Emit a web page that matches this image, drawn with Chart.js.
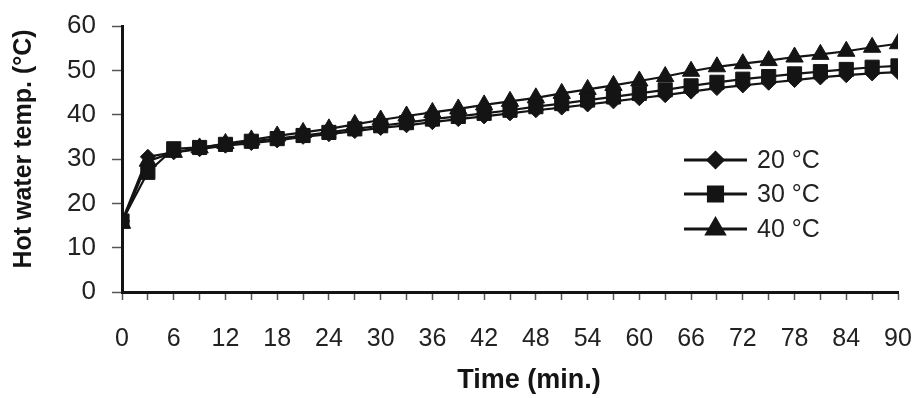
<!DOCTYPE html>
<html>
<head>
<meta charset="utf-8">
<script src="https://cdn.jsdelivr.net/npm/chart.js@4.4.0/dist/chart.umd.min.js"></script>
<style>
  html, body { margin: 0; padding: 0; background: #fff; }
</style>
</head>
<body>
<canvas id="chart" width="916" height="398"></canvas>
<script>
// time in minutes, one reading every 3 min
var times = [0, 3, 6, 9, 12, 15, 18, 21, 24, 27, 30, 33, 36, 39, 42, 45, 48, 51, 54, 57, 60, 63, 66, 69, 72, 75, 78, 81, 84, 87, 90];

var temp20 = [16, 30.5, 31.5, 32.2, 33, 33.6, 34.2, 35, 35.6, 36.3, 37, 37.6, 38.3, 39, 39.6, 40.3, 41, 41.6, 42.3, 43, 43.7, 44.4, 45.2, 46, 46.6, 47.2, 47.8, 48.4, 48.9, 49.3, 49.6];
var temp30 = [16, 27, 32.3, 32.6, 33.3, 34, 34.6, 35.3, 36, 36.8, 37.5, 38.2, 39, 39.6, 40.3, 41, 41.8, 42.5, 43.3, 44, 44.8, 45.6, 46.5, 47.3, 48, 48.6, 49.2, 49.7, 50.2, 50.7, 51];
var temp40 = [15.5, 29.5, 31.5, 32.5, 33.5, 34.3, 35.2, 36, 36.8, 37.8, 38.8, 39.7, 40.5, 41.3, 42.2, 43, 43.8, 44.8, 45.7, 46.6, 47.6, 48.6, 49.8, 50.8, 51.5, 52.2, 53, 53.6, 54.3, 55.2, 56];

var seriesNames = ['20 \u00b0C', '30 \u00b0C', '40 \u00b0C'];
var xTitle = 'Time (min.)';
var yTitle = 'Hot water temp. (\u00b0C)';

var ink = '#141414';
var fontFamily = "'Liberation Sans', Arial, sans-serif";

function toPoints(values) {
    var pts = [];
    for (var i = 0; i < times.length; i++) {
        pts.push({ x: times[i], y: values[i] });
    }
    return pts;
}

function makeSet(label, values, style, radius) {
    return {
        label: label,
        data: toPoints(values),
        borderColor: ink,
        backgroundColor: ink,
        borderWidth: 2.2,
        pointStyle: style,
        pointRadius: radius,
        pointBorderWidth: 1,
        pointBackgroundColor: ink,
        pointBorderColor: ink,
        tension: 0,
        fill: false
    };
}

// legend drawn inside the plot: line with marker, then label
var insideLegend = {
    id: 'insideLegend',
    afterDraw: function (chart) {
        var ctx = chart.ctx;
        var x0 = 684, x1 = 747, xText = 757;
        var rows = [160, 194, 229];
        ctx.save();
        chart.data.datasets.forEach(function (ds, i) {
            var y = rows[i];
            ctx.strokeStyle = ink;
            ctx.lineWidth = 3;
            ctx.beginPath();
            ctx.moveTo(x0, y);
            ctx.lineTo(x1, y);
            ctx.stroke();
            ctx.fillStyle = ink;
            Chart.helpers.drawPoint(ctx, {
                pointStyle: ds.pointStyle,
                radius: ds.pointRadius,
                borderWidth: 1,
                rotation: 0
            }, (x0 + x1) / 2, y);
            ctx.fillStyle = '#222';
            ctx.font = '25px ' + fontFamily;
            ctx.textAlign = 'left';
            ctx.textBaseline = 'middle';
            ctx.fillText(ds.label, xText, y + 1);
        });
        ctx.restore();
    }
};

// axis titles, placed where the original has them
var axisTitles = {
    id: 'axisTitles',
    afterDraw: function (chart) {
        var ctx = chart.ctx;
        ctx.save();
        ctx.fillStyle = ink;
        ctx.textAlign = 'center';
        ctx.textBaseline = 'middle';
        ctx.font = 'bold 27px ' + fontFamily;
        ctx.fillText(xTitle, 529, 381);
        ctx.translate(24, 149);
        ctx.rotate(-Math.PI / 2);
        ctx.font = 'bold 25px ' + fontFamily;
        ctx.fillText(yTitle, 0, 0);
        ctx.restore();
    }
};

var ctx = document.getElementById('chart').getContext('2d');
var chart = new Chart(ctx, {
    type: 'line',
    data: {
        datasets: [
            makeSet(seriesNames[0], temp20, 'rectRot', 7.5),
            makeSet(seriesNames[1], temp30, 'rect', 10),
            makeSet(seriesNames[2], temp40, 'triangle', 10)
        ]
    },
    options: {
        responsive: false,
        animation: false,
        layout: { padding: { top: 26, right: 18, left: 0, bottom: 0 } },
        plugins: {
            legend: { display: false },
            tooltip: { enabled: false }
        },
        scales: {
            x: {
                type: 'linear',
                min: 0,
                max: 90,
                afterFit: function (scale) {
                    scale.height = 106;
                    scale.paddingLeft = 0;
                    scale.paddingRight = 0;
                },
                border: { display: true, color: ink, width: 3 },
                grid: { drawOnChartArea: false, drawTicks: true, tickLength: 8, tickWidth: 1.5, color: '#555' },
                ticks: {
                    stepSize: 3,
                    autoSkip: false,
                    maxRotation: 0,
                    padding: 24,
                    color: '#222',
                    font: { family: fontFamily, size: 25 },
                    callback: function (v) { return v % 6 === 0 ? v : ''; }
                }
            },
            y: {
                min: 0,
                max: 60,
                afterFit: function (scale) {
                    scale.width = 122;
                    scale.paddingTop = 0;
                    scale.paddingBottom = 0;
                },
                border: { display: true, color: ink, width: 3 },
                grid: { drawOnChartArea: false, drawTicks: true, tickLength: 10, tickWidth: 1.5, color: '#555' },
                ticks: {
                    stepSize: 10,
                    padding: 16,
                    color: '#222',
                    font: { family: fontFamily, size: 26 }
                }
            }
        }
    },
    plugins: [insideLegend, axisTitles]
});
</script>
</body>
</html>
